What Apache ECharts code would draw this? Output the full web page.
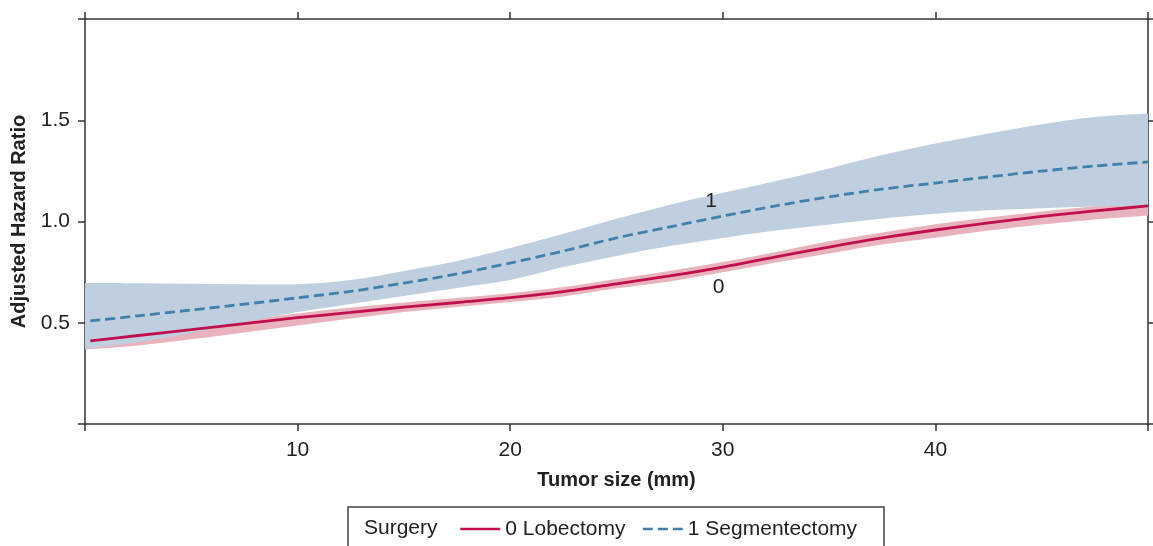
<!DOCTYPE html>
<html>
<head>
<meta charset="utf-8">
<script src="https://cdn.jsdelivr.net/npm/echarts@6/dist/echarts.min.js"></script>
<style>
  html, body { margin: 0; padding: 0; background: #fff; }
  #chart { width: 1153px; height: 546px; }
</style>
</head>
<body>
<div id="chart"></div>
<script>
// tumor size (mm) where the bands and lines are read
const bandSize = [0, 2.5, 5, 7.5, 10, 12.5, 15, 17.5, 20, 22.5, 25, 27.5, 30, 32.5, 35, 37.5, 40, 42.5, 45, 47.5, 50];
const lineSize = [0.25, 2.5, 5, 7.5, 10, 12.5, 15, 17.5, 20, 22.5, 25, 27.5, 30, 32.5, 35, 37.5, 40, 42.5, 45, 47.5, 50];

// 0 Lobectomy
const lobectomyHR   = [0.410, 0.437, 0.466, 0.496, 0.525, 0.551, 0.577, 0.600, 0.624, 0.654, 0.692, 0.731, 0.775, 0.825, 0.874, 0.919, 0.958, 0.993, 1.025, 1.052, 1.077];
const lobectomyLow  = [0.368, 0.388, 0.418, 0.452, 0.487, 0.521, 0.553, 0.578, 0.602, 0.630, 0.670, 0.704, 0.749, 0.798, 0.842, 0.886, 0.920, 0.955, 0.985, 1.010, 1.030];
const lobectomyHigh = [0.422, 0.451, 0.481, 0.516, 0.546, 0.575, 0.600, 0.622, 0.646, 0.676, 0.716, 0.756, 0.800, 0.850, 0.902, 0.946, 0.986, 1.020, 1.050, 1.075, 1.093];

// 1 Segmentectomy
const segmentHR   = [0.509, 0.534, 0.563, 0.592, 0.623, 0.655, 0.696, 0.741, 0.795, 0.854, 0.919, 0.973, 1.027, 1.077, 1.122, 1.160, 1.190, 1.220, 1.249, 1.274, 1.294];
const segmentLow  = [0.370, 0.405, 0.449, 0.504, 0.553, 0.593, 0.632, 0.672, 0.711, 0.775, 0.830, 0.879, 0.919, 0.955, 0.985, 1.015, 1.038, 1.055, 1.066, 1.074, 1.079];
const segmentHigh = [0.696, 0.695, 0.693, 0.690, 0.690, 0.711, 0.756, 0.805, 0.869, 0.940, 1.013, 1.083, 1.142, 1.200, 1.262, 1.328, 1.385, 1.435, 1.480, 1.516, 1.533];

const xTicks = [10, 20, 30, 40];
const yTicks = [0.5, 1.0, 1.5];

const FONT = '"Liberation Sans", Arial, Helvetica, sans-serif';
const AXIS = '#333';

function pairs(xs, ys) {
  return xs.map((x, i) => [x, ys[i]]);
}

// smooth path through pixel points (catmull-rom -> bezier)
function curve(pts, start) {
  let d = (start ? 'M' : 'L') + pts[0][0] + ',' + pts[0][1];
  for (let i = 0; i < pts.length - 1; i++) {
    const p0 = pts[i - 1] || pts[i];
    const p1 = pts[i];
    const p2 = pts[i + 1];
    const p3 = pts[i + 2] || p2;
    const c1 = [p1[0] + (p2[0] - p0[0]) / 6, p1[1] + (p2[1] - p0[1]) / 6];
    const c2 = [p2[0] - (p3[0] - p1[0]) / 6, p2[1] - (p3[1] - p1[1]) / 6];
    d += 'C' + c1[0] + ',' + c1[1] + ' ' + c2[0] + ',' + c2[1] + ' ' + p2[0] + ',' + p2[1];
  }
  return d;
}

function bandSeries(name, low, high, color, z) {
  return {
    name: name, type: 'custom', z: z, silent: true,
    data: bandSize.map((x, i) => [x, low[i], high[i]]),
    encode: { x: 0, y: [1, 2] },
    renderItem: function (params, api) {
      if (params.dataIndex !== 0) return null;
      const top = bandSize.map((x, i) => api.coord([x, high[i]]));
      const bot = bandSize.map((x, i) => api.coord([x, low[i]])).reverse();
      return {
        type: 'path',
        shape: { pathData: curve(top, true) + curve(bot, false) + 'Z' },
        style: { fill: color, stroke: null }
      };
    }
  };
}

const chart = echarts.init(document.getElementById('chart'));

const tickStyle = { show: true, length: 7, lineStyle: { color: AXIS, width: 1.5 } };
const lineAxis = { show: true, onZero: false, lineStyle: { color: AXIS, width: 1.5 } };

const option = {
  animation: false,
  textStyle: { fontFamily: FONT },
  grid: { left: 85, right: 5, top: 19, bottom: 122 },
  legend: {
    data: ['0 Lobectomy', '1 Segmentectomy'],
    left: 454,
    top: 512,
    itemWidth: 40,
    itemHeight: 14,
    itemGap: 16,
    itemStyle: { opacity: 0 },
    lineStyle: { width: 2.6 },
    textStyle: { fontFamily: FONT, fontSize: 21, color: '#222', lineHeight: 24 }
  },
  graphic: [
    {
      type: 'rect',
      shape: { x: 348, y: 507, width: 536, height: 60 },
      style: { fill: 'none', stroke: '#444', lineWidth: 1.5 }
    },
    {
      type: 'text',
      x: 364, y: 528,
      style: { text: 'Surgery', font: '21px ' + FONT, fill: '#222', textVerticalAlign: 'middle' }
    }
  ],
  xAxis: [
    {
      type: 'value', min: 0, max: 50, interval: 10, position: 'bottom',
      name: 'Tumor size (mm)', nameLocation: 'middle', nameGap: 46,
      nameTextStyle: { fontFamily: FONT, fontSize: 20, fontWeight: 'bold', color: '#222' },
      axisLine: lineAxis, axisTick: tickStyle, splitLine: { show: false },
      axisLabel: {
        margin: 16, fontSize: 21, color: '#222', fontFamily: FONT,
        formatter: v => xTicks.indexOf(v) >= 0 ? String(v) : ''
      }
    },
    {
      type: 'value', min: 0, max: 50, interval: 10, position: 'top',
      axisLine: lineAxis, axisTick: tickStyle, splitLine: { show: false },
      axisLabel: { show: false }
    }
  ],
  yAxis: [
    {
      type: 'value', min: 0, max: 2, interval: 0.5, position: 'left',
      name: 'Adjusted Hazard Ratio', nameLocation: 'middle', nameGap: 51,
      nameTextStyle: { fontFamily: FONT, fontSize: 20, fontWeight: 'bold', color: '#222' },
      axisLine: lineAxis, axisTick: tickStyle, splitLine: { show: false },
      axisLabel: {
        margin: 15, fontSize: 21, color: '#222', fontFamily: FONT,
        formatter: v => yTicks.indexOf(v) >= 0 ? v.toFixed(1) : ''
      }
    },
    {
      type: 'value', min: 0, max: 2, interval: 0.5, position: 'right',
      axisLine: lineAxis, axisTick: tickStyle, splitLine: { show: false },
      axisLabel: { show: false }
    }
  ],
  series: [
    bandSeries('lobBand', lobectomyLow, lobectomyHigh, '#e8b3bc', 1),
    bandSeries('segBand', segmentLow, segmentHigh, '#c0cfdf', 2),
    {
      name: '0 Lobectomy', type: 'line', smooth: 0.3, symbol: 'none',
      data: pairs(lineSize, lobectomyHR),
      lineStyle: { color: '#c10f4d', width: 2.8 }, itemStyle: { color: '#c10f4d' }, z: 3,
      markPoint: {
        symbol: 'circle', symbolSize: 1, itemStyle: { color: 'rgba(0,0,0,0)' },
        label: { show: true, position: 'inside', formatter: '0', fontSize: 21, color: '#222', fontFamily: FONT },
        data: [{ coord: [29.8, 0.677] }]
      }
    },
    {
      name: '1 Segmentectomy', type: 'line', smooth: 0.3, symbol: 'none',
      data: pairs(lineSize, segmentHR),
      lineStyle: { color: '#3f80ad', width: 2.8, type: [10, 5] }, itemStyle: { color: '#3f80ad' }, z: 4,
      markPoint: {
        symbol: 'circle', symbolSize: 1, itemStyle: { color: 'rgba(0,0,0,0)' },
        label: { show: true, position: 'inside', formatter: '1', fontSize: 21, color: '#222', fontFamily: FONT },
        data: [{ coord: [29.45, 1.101] }]
      }
    }
  ]
};

chart.setOption(option);
</script>
</body>
</html>
